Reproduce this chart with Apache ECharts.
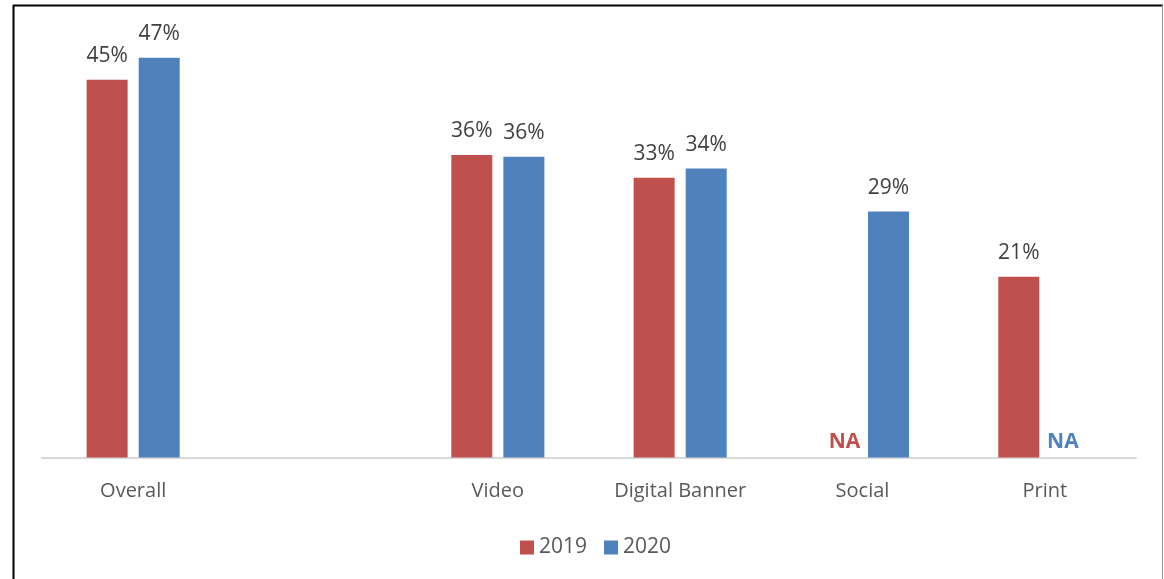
<!DOCTYPE html>
<html>
<head>
<meta charset="utf-8">
<script src="https://cdn.jsdelivr.net/npm/echarts@6/dist/echarts.min.js"></script>
<style>
html,body{margin:0;padding:0;background:#fff;}
#chart{width:1164px;height:579px;}
</style>
</head>
<body>
<div id="chart"></div>
<script>
var categories = ['Overall', '', 'Video', 'Digital Banner', 'Social', 'Print'];
var years = ['2019', '2020'];
// values, labels show them rounded
var values2019 = [44.7, null, 35.8, 33.1, 'NA', 21.4];
var values2020 = [47.3, null, 35.6, 34.2, 29.1, 'NA'];

var colors = ['#C0504D', '#4F81BD'];
var naOffsets = [[8, 0], [-8, 0]];

function buildData(arr, idx) {
	var out = [];
	for (var i = 0; i < arr.length; i++) {
		var v = arr[i];
		if (v === 'NA') {
			out.push({
				value: 0,
				label: {
					show: true,
					formatter: 'NA',
					fontWeight: 'bold',
					fontSize: 21,
					color: colors[idx],
					distance: 5,
					offset: naOffsets[idx]
				}
			});
		} else {
			out.push(v);
		}
	}
	return out;
}

var myChart = echarts.init(document.getElementById('chart'));

var labelStyle = {
	show: true,
	position: 'top',
	distance: 13,
	fontFamily: 'Open Sans',
	fontSize: 21,
	color: '#404040',
	formatter: function (p) { return Math.round(p.value) + '%'; }
};

option = {
	backgroundColor: '#fff',
	animation: false,
	textStyle: { fontFamily: 'Open Sans' },
	grid: { left: 42, right: 28, top: 35, bottom: 121.5 },
	legend: {
		data: years,
		left: 515,
		top: 532,
		itemWidth: 14,
		itemHeight: 14,
		itemGap: 17,
		icon: 'rect',
		textStyle: { fontSize: 21, color: '#595959' }
	},
	xAxis: {
		type: 'category',
		data: categories,
		axisLine: { lineStyle: { color: '#D9D9D9', width: 2 } },
		axisTick: { show: false },
		axisLabel: { fontSize: 20, color: '#595959', margin: 24, interval: 0 }
	},
	yAxis: {
		type: 'value',
		min: 0,
		max: 50,
		show: false,
		splitLine: { show: false }
	},
	graphic: [
		{ type: 'line', shape: { x1: 13.5, y1: 5, x2: 13.5, y2: 579 }, style: { stroke: '#000', lineWidth: 2 } },
		{ type: 'line', shape: { x1: 13, y1: 5.5, x2: 1163, y2: 5.5 }, style: { stroke: '#000', lineWidth: 2 } },
		{ type: 'line', shape: { x1: 1162.5, y1: 5, x2: 1162.5, y2: 579 }, style: { stroke: '#999', lineWidth: 1 } }
	],
	series: [{
		name: years[0],
		type: 'bar',
		barWidth: 41,
		barGap: '27%',
		itemStyle: { color: colors[0] },
		label: labelStyle,
		data: buildData(values2019, 0)
	}, {
		name: years[1],
		type: 'bar',
		barWidth: 41,
		barGap: '27%',
		itemStyle: { color: colors[1] },
		label: labelStyle,
		data: buildData(values2020, 1)
	}]
};

myChart.setOption(option);
</script>
</body>
</html>
